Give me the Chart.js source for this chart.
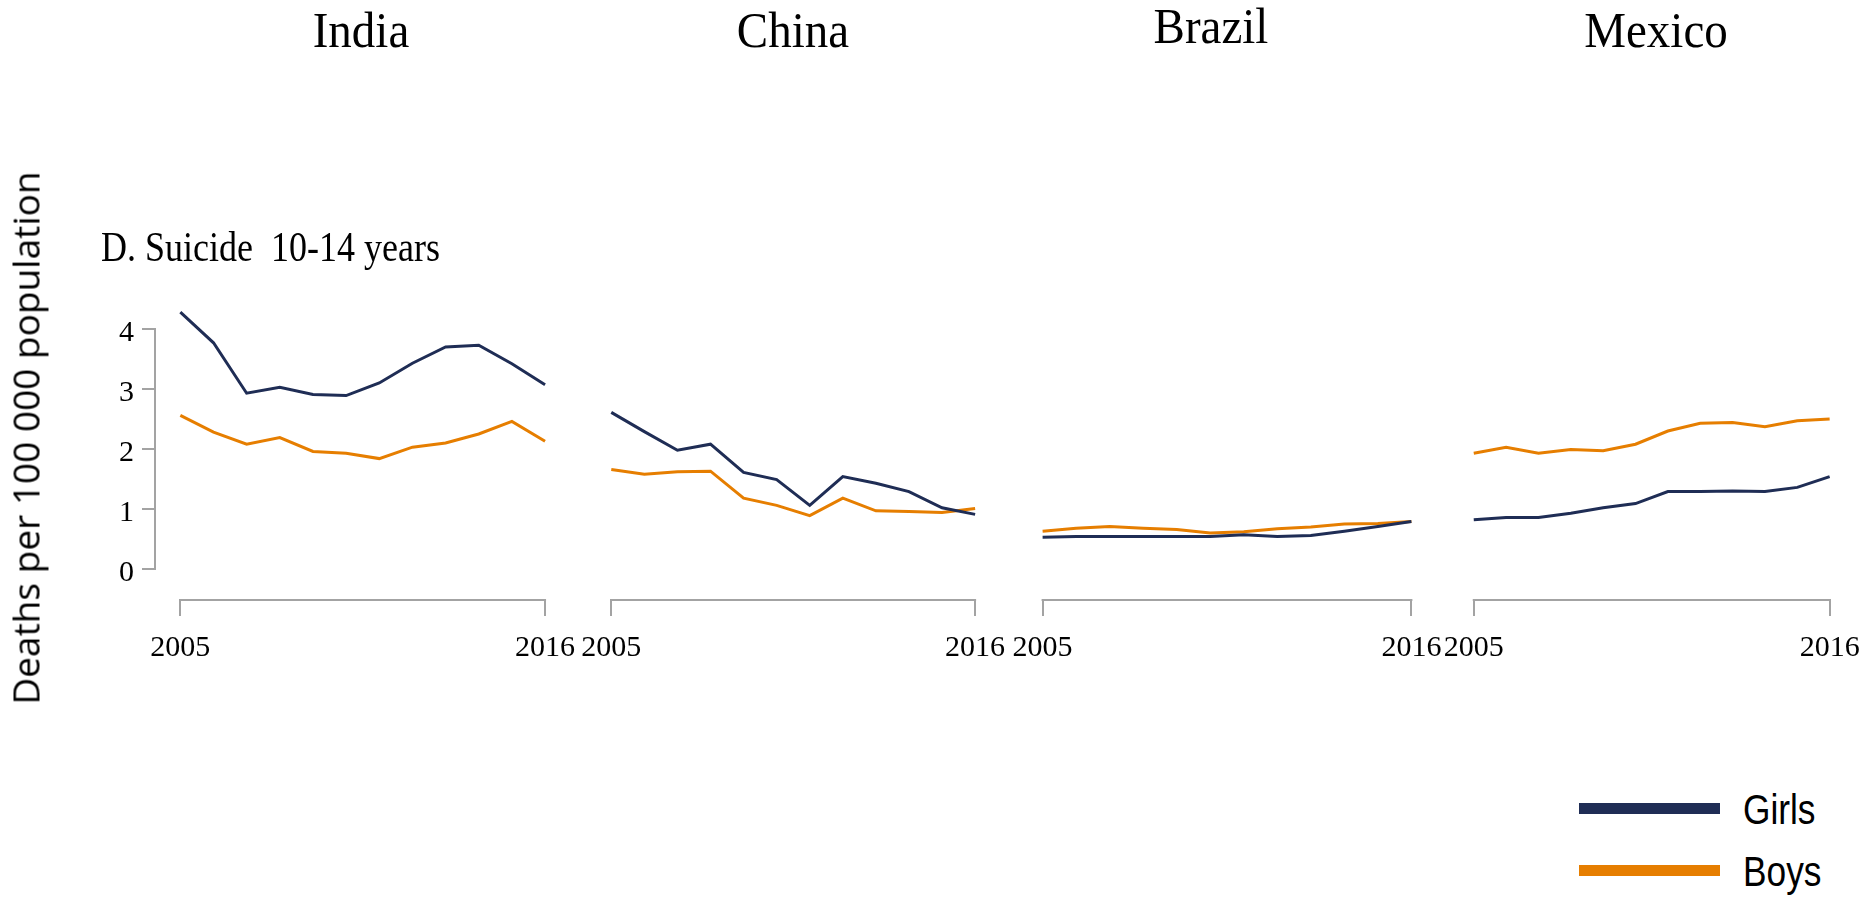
<!DOCTYPE html>
<html>
<head>
<meta charset="utf-8" />
<title>Suicide 10-14 years</title>
<script src="https://cdn.jsdelivr.net/npm/chart.js@4.4.1/dist/chart.umd.min.js"></script>
<style>
  body { margin: 0; background: #fff; }
  #page { position: relative; width: 1874px; height: 902px; overflow: hidden; }
  canvas { position: absolute; top: 0; }
  .serif { position: absolute; font-family: "Liberation Serif", "Times New Roman", serif; color: #000; line-height: 1; white-space: pre; }
  .country { font-size: 47px; transform: translateX(-50%) scaleY(1.08); transform-origin: 50% 0.84em; }
  #subtitle { font-size: 36px; left: 101px; top: 231px; transform: scaleY(1.15); transform-origin: 0 0.84em; }
  #ytitle {
    position: absolute; left: 25px; top: 438px;
    font-family: "Open Sans", sans-serif; font-size: 37px; line-height: 1; white-space: nowrap;
    transform: translate(-50%, -50%) rotate(-90deg);
  }
  .legend-line { position: absolute; left: 1579px; width: 141px; height: 11px; }
  .legend-text {
    position: absolute; left: 1743px; font-family: "Liberation Sans", Arial, sans-serif;
    font-size: 43px; line-height: 1; transform: scaleX(0.82); transform-origin: 0 0;
  }
</style>
</head>
<body>
<div id="page">
  <canvas id="chart-india" width="590" height="700" style="left:0px"></canvas>
  <canvas id="chart-china" width="480" height="700" style="left:540px"></canvas>
  <canvas id="chart-brazil" width="470" height="700" style="left:990px"></canvas>
  <canvas id="chart-mexico" width="454" height="700" style="left:1420px"></canvas>

  <div class="serif country" style="left:361px; top:8px">India</div>
  <div class="serif country" style="left:793px; top:8px">China</div>
  <div class="serif country" style="left:1211px; top:4px">Brazil</div>
  <div class="serif country" style="left:1656px; top:8px">Mexico</div>
  <div class="serif" id="subtitle">D. Suicide  10-14 years</div>
  <div id="ytitle">Deaths per 100 000 population</div>
  <div id="legend"></div>
</div>

<script>
  // years shown on every panel
  const years = [2005, 2006, 2007, 2008, 2009, 2010, 2011, 2012, 2013, 2014, 2015, 2016];
  const yTicks = [0, 1, 2, 3, 4];
  const seriesNames = ["Girls", "Boys"];
  const seriesColors = ["#1f2d55", "#e67e00"];

  const indiaGirls = [4.28, 3.77, 2.93, 3.03, 2.91, 2.89, 3.1, 3.43, 3.7, 3.73, 3.42, 3.07];
  const indiaBoys = [2.56, 2.28, 2.08, 2.19, 1.96, 1.93, 1.84, 2.03, 2.1, 2.25, 2.46, 2.13];
  const chinaGirls = [2.61, 2.29, 1.98, 2.08, 1.61, 1.49, 1.06, 1.54, 1.43, 1.29, 1.02, 0.91];
  const chinaBoys = [1.66, 1.58, 1.62, 1.63, 1.18, 1.06, 0.89, 1.18, 0.97, 0.96, 0.94, 1.01];
  const brazilGirls = [0.53, 0.54, 0.54, 0.54, 0.54, 0.54, 0.57, 0.54, 0.56, 0.63, 0.71, 0.79];
  const brazilBoys = [0.63, 0.68, 0.71, 0.68, 0.66, 0.6, 0.62, 0.67, 0.7, 0.75, 0.76, 0.79];
  const mexicoGirls = [0.82, 0.86, 0.86, 0.93, 1.02, 1.09, 1.29, 1.29, 1.3, 1.29, 1.36, 1.54];
  const mexicoBoys = [1.93, 2.03, 1.93, 1.99, 1.97, 2.08, 2.3, 2.43, 2.44, 2.37, 2.47, 2.5];

  const axisColor = "#a3a3a3";
  const tickFont = { family: "'Liberation Serif', 'Times New Roman', serif", size: 30 };

  // R style axes: the axis line only runs between first and last tick
  const rAxes = {
    id: "rAxes",
    afterDraw(chart) {
      const { ctx, chartArea, scales } = chart;
      ctx.save();
      ctx.strokeStyle = axisColor;
      ctx.lineWidth = 2;
      ctx.beginPath();
      const xb = chartArea.bottom + 1;
      ctx.moveTo(scales.x.getPixelForValue(years[0]) - 1, xb);
      ctx.lineTo(scales.x.getPixelForValue(years[years.length - 1]) + 1, xb);
      if (scales.y.options.display) {
        const yl = chartArea.left - 1;
        ctx.moveTo(yl, scales.y.getPixelForValue(yTicks[0]) + 1);
        ctx.lineTo(yl, scales.y.getPixelForValue(yTicks[yTicks.length - 1]) - 1);
      }
      ctx.stroke();
      ctx.restore();
    },
  };

  function makePanel(id, girls, boys, opts) {
    const ctx = document.getElementById(id).getContext("2d");
    return new Chart(ctx, {
      type: "line",
      data: {
        datasets: [girls, boys].map((values, i) => ({
          label: seriesNames[i],
          data: years.map((yr, j) => ({ x: yr, y: values[j] })),
          borderColor: seriesColors[i],
          borderWidth: 3,
          pointRadius: 0,
          tension: 0,
          fill: false,
        })),
      },
      options: {
        responsive: false,
        animation: false,
        layout: { padding: { top: 269, bottom: 21, left: opts.padLeft, right: opts.padRight } },
        plugins: { legend: { display: false }, tooltip: { enabled: false } },
        scales: {
          x: {
            type: "linear",
            min: 2005 - opts.ext,
            max: 2016 + opts.ext,
            afterBuildTicks: (scale) => {
              scale.ticks = [{ value: years[0] }, { value: years[years.length - 1] }];
            },
            afterFit: (scale) => { scale.height = 80; },
            border: { display: false },
            grid: { drawOnChartArea: false, drawTicks: true, tickLength: 17, color: axisColor, lineWidth: 2 },
            ticks: { color: "#000", font: tickFont, padding: 14, maxRotation: 0, callback: (v) => String(v) },
          },
          y: {
            display: opts.showY,
            min: -0.5,
            max: 5,
            afterBuildTicks: (scale) => {
              scale.ticks = yTicks.map((v) => ({ value: v }));
            },
            afterFit: (scale) => {
              if (scale.options.display) scale.width = 60;
            },
            border: { display: false },
            grid: { drawOnChartArea: false, drawTicks: true, tickLength: 14, color: axisColor, lineWidth: 2 },
            ticks: { color: "#000", font: tickFont, padding: 8, labelOffset: 4, callback: (v) => String(v) },
          },
        },
      },
      plugins: [rAxes],
    });
  }

  makePanel("chart-india", indiaGirls, indiaBoys, { ext: 0.734, padLeft: 96, padRight: 16, showY: true });
  makePanel("chart-china", chinaGirls, chinaBoys, { ext: 0.734, padLeft: 47, padRight: 15, showY: false });
  makePanel("chart-brazil", brazilGirls, brazilBoys, { ext: 0.734, padLeft: 28, padRight: 24, showY: false });
  makePanel("chart-mexico", mexicoGirls, mexicoBoys, { ext: 0.734, padLeft: 30, padRight: 6, showY: false });

  // legend built from the series names and colours
  const legend = document.getElementById("legend");
  const legendTops = [803, 865];
  seriesNames.forEach((name, i) => {
    const line = document.createElement("div");
    line.className = "legend-line";
    line.style.top = legendTops[i] + "px";
    line.style.background = seriesColors[i];
    legend.appendChild(line);

    const text = document.createElement("div");
    text.className = "legend-text";
    text.style.top = legendTops[i] - 15 + "px";
    text.textContent = name;
    legend.appendChild(text);
  });
</script>
</body>
</html>
